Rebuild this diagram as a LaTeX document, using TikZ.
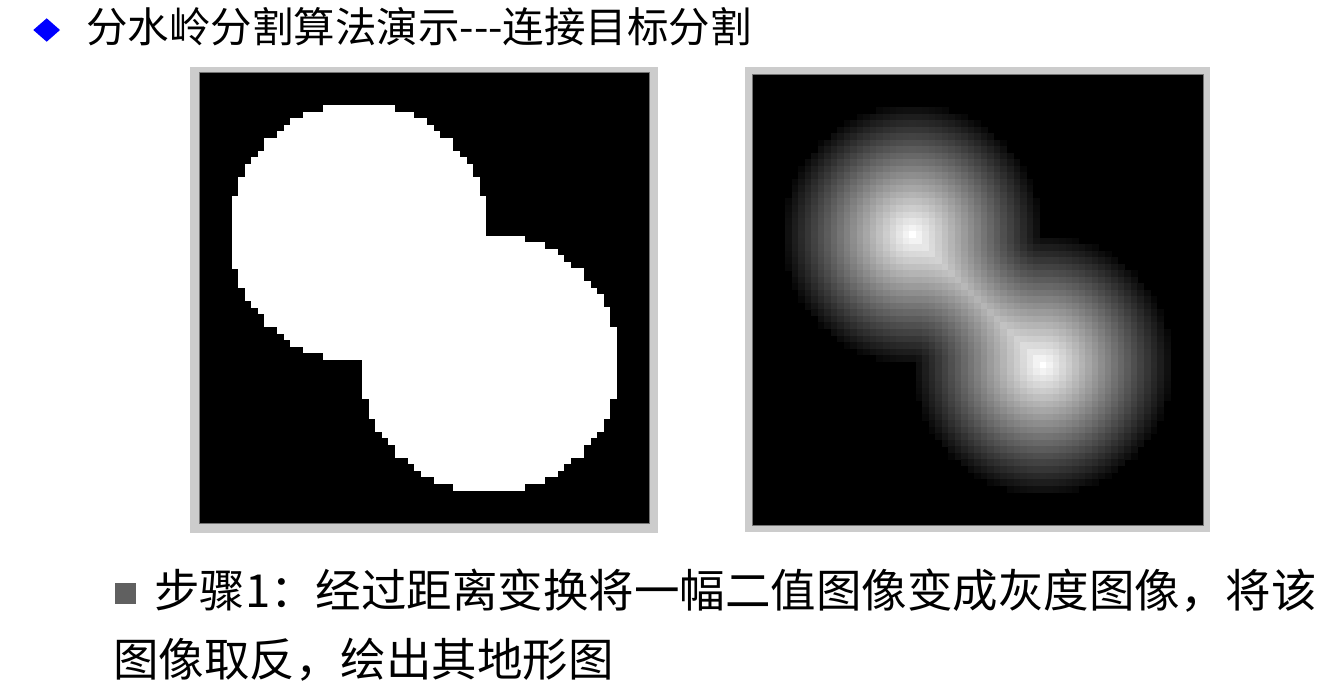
\documentclass[tikz,border=0pt]{standalone}
\usepackage{fontspec}
\newfontfamily\cjk{Noto Sans CJK SC}
\definecolor{framegray}{HTML}{CCCCCC}
\definecolor{bulletgray}{HTML}{606060}
\definecolor{diablue}{HTML}{0000FF}
\begin{document}
\begin{tikzpicture}[x=1pt,y=-1pt,
  ttl/.style={font=\cjk\fontsize{41.5}{50}\selectfont, anchor=base west, inner sep=0pt},
  txt/.style={font=\cjk\fontsize{45.5}{55}\selectfont, anchor=base west, inner sep=0pt},
  framebox/.style={fill=framegray},
  panelbox/.style={fill=black, draw=black!55, line width=0.5pt}]
\useasboundingbox (0,0) rectangle (1341,686);
\fill[white] (0,0) rectangle (1341,686);
% title
\fill[diablue] (33.3,30) -- (46.7,18.3) -- (60,30) -- (46.7,41.7) -- cycle;
\node[ttl] (title) at (86,42) {分水岭分割算法演示-{}-{}-连接目标分割};
% panels
\fill[framebox] (190,67) rectangle (658,533);
\filldraw[panelbox] (199,72.5) rectangle (649.5,523);
\fill[framebox] (745,67) rectangle (1210,532);
\filldraw[panelbox] (752.5,74.5) rectangle (1203.5,525);
\def\cs{6.525}
\foreach \y in {-34,...,34}{
  \pgfmathsetmacro{\ta}{392.04-(\y+10)*(\y+10)}
  \pgfmathsetmacro{\tb}{392.04-(\y-10)*(\y-10)}
  \def\lo{100}\def\hi{-100}
  \ifdim\ta pt<0pt\relax\else
    \pgfmathtruncatemacro{\lo}{ceil(-10-sqrt(\ta))}
    \pgfmathtruncatemacro{\hi}{floor(-10+sqrt(\ta))}
  \fi
  \ifdim\tb pt<0pt\relax\else
    \pgfmathtruncatemacro{\lo}{min(\lo,ceil(10-sqrt(\tb)))}
    \pgfmathtruncatemacro{\hi}{max(\hi,floor(10+sqrt(\tb)))}
  \fi
  \ifnum\lo>\hi\relax\else
    \fill[white] ({199+(\lo+34)*\cs},{72.5+(\y+34)*\cs}) rectangle ({199+(\hi+35)*\cs},{72.5+(\y+35)*\cs+0.4});
    \foreach \x in {\lo,...,\hi}{
      \pgfmathsetmacro{\dA}{veclen(\x+10,\y+10)}
      \pgfmathsetmacro{\dB}{veclen(\x-10,\y-10)}
      \pgfmathsetmacro{\best}{min(veclen(\x-9.799,\y+9.799),veclen(\x+9.799,\y-9.799))}
      \ifdim\dA pt<0.01pt
        \def\best{19.8}%
      \else
        \pgfmathsetmacro{\qd}{veclen(-20+19.8*(\x+10)/\dA,-20+19.8*(\y+10)/\dA)}
        \ifdim\qd pt<19.8pt\relax\else
          \pgfmathsetmacro{\best}{min(\best,abs(19.8-\dA))}
        \fi
      \fi
      \ifdim\dB pt<0.01pt
        \def\best{19.8}%
      \else
        \pgfmathsetmacro{\qd}{veclen(20+19.8*(\x-10)/\dB,20+19.8*(\y-10)/\dB)}
        \ifdim\qd pt<19.8pt\relax\else
          \pgfmathsetmacro{\best}{min(\best,abs(19.8-\dB))}
        \fi
      \fi
      \pgfmathsetmacro{\g}{min(1,(\best+0.5)/20.3)}
      \definecolor{pc}{gray}{\g}
      \fill[pc] ({752.5+(\x+34)*\cs},{74.5+(\y+34)*\cs}) rectangle ({752.5+(\x+35)*\cs+0.4},{74.5+(\y+35)*\cs+0.4});
    }
  \fi
}
% bottom text
\fill[bulletgray] (115,583) rectangle (136,604);
\node[txt] (line1) at (154,607) {步骤1：经过距离变换将一幅二值图像变成灰度图像，将该};
\node[txt] (line2) at (113,676) {图像取反，绘出其地形图};
\end{tikzpicture}
\end{document}
